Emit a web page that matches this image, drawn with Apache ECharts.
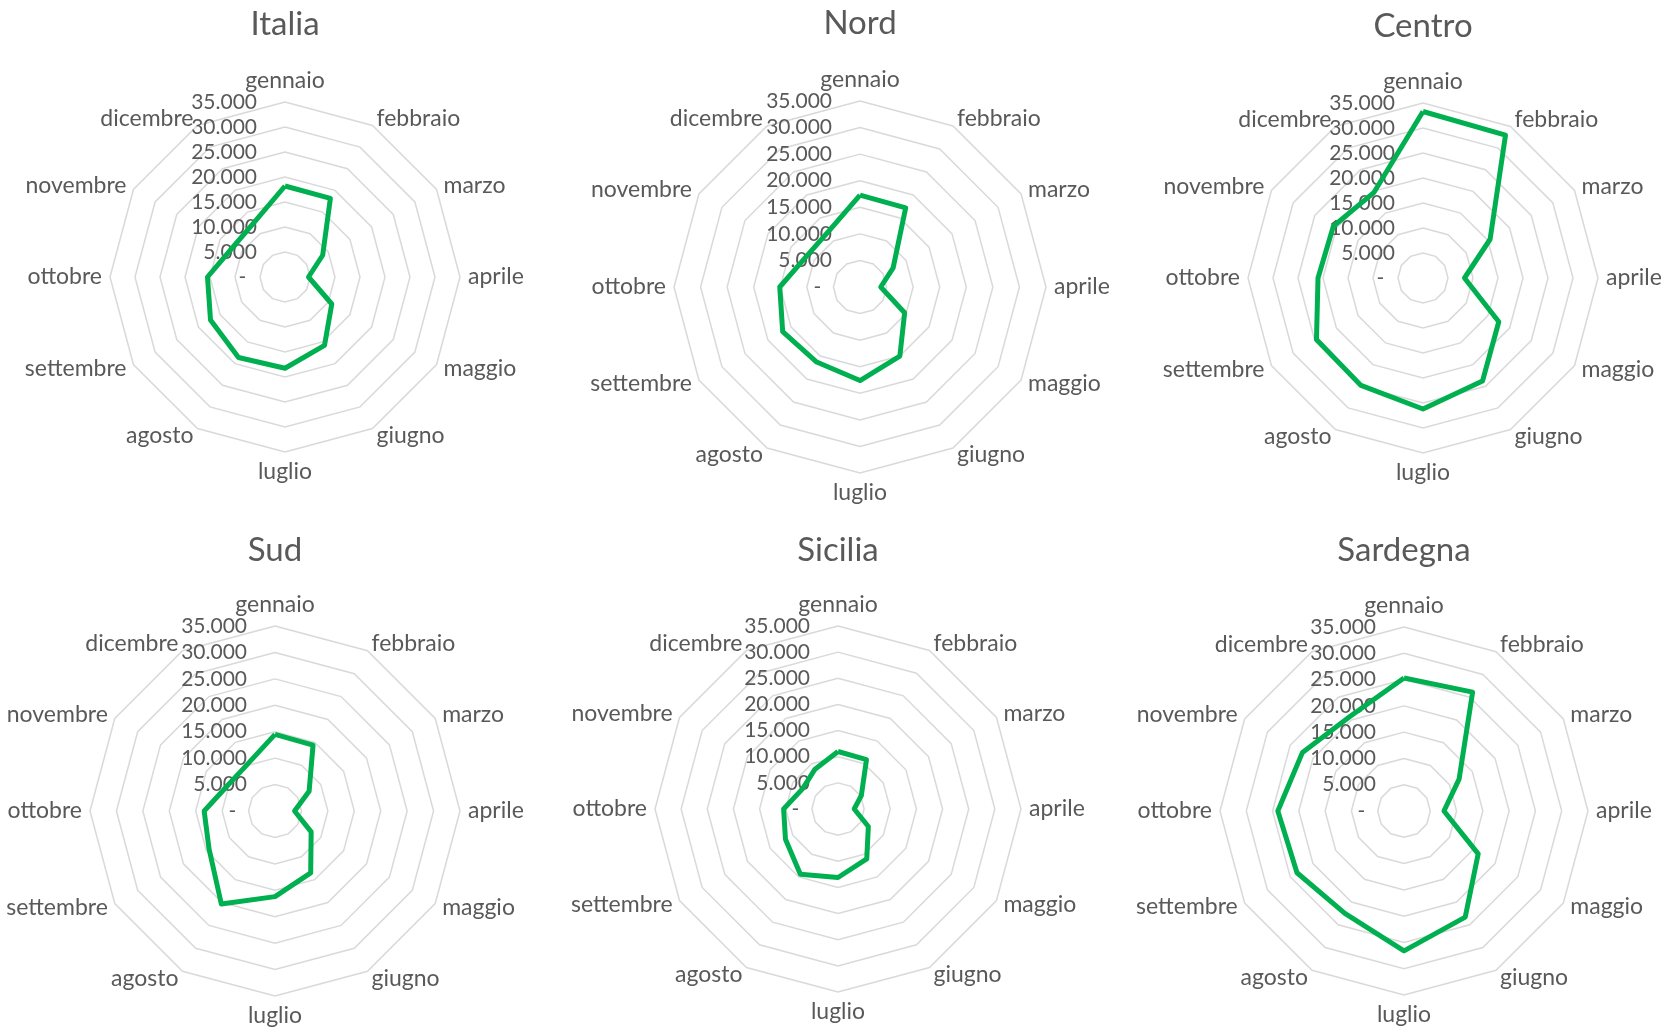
<!DOCTYPE html>
<html style="height: 100%">
<head>
    <meta charset="utf-8">
</head>
<body style="height: 100%; margin: 0; background: #fff">
<div id="container" style="width:1665px; height:1031px"></div>
<script type="text/javascript" src="https://cdn.jsdelivr.net/npm/echarts@6/dist/echarts.min.js"></script>

<script type="text/javascript">

    // mesi e valori
    var months = ['gennaio', 'febbraio', 'marzo', 'aprile', 'maggio', 'giugno',
        'luglio', 'agosto', 'settembre', 'ottobre', 'novembre', 'dicembre'];
    var regions = ['Italia', 'Nord', 'Centro', 'Sud', 'Sicilia', 'Sardegna'];
    var ticks = [0, 5000, 10000, 15000, 20000, 25000, 30000, 35000];

    var italia = [18200, 18150, 8700, 4700, 10800, 15800, 18250, 18600, 17200, 15500, 12000, 12500];
    var nord = [17300, 17200, 7200, 3900, 9700, 15000, 17600, 16300, 16800, 15100, 11600, 12000];
    var centro = [33300, 33000, 15500, 8300, 17500, 23800, 26200, 24800, 24600, 21000, 20700, 19700];
    var sud = [14500, 14400, 7450, 3700, 7900, 13500, 16200, 20300, 14400, 13400, 10100, 10300];
    var sicilia = [11000, 10900, 5150, 3100, 6700, 11000, 13100, 14400, 11600, 10400, 7800, 8800];
    var sardegna = [25300, 26100, 12100, 7600, 16300, 23300, 26600, 22500, 23500, 24000, 22300, 20700];

    f1();
    function f1() {
        var dom = document.getElementById("container");
        var myChart = echarts.init(dom);

        var allData = [italia, nord, centro, sud, sicilia, sardegna];
        var centers = [[285, 277], [860, 287], [1423, 278], [275, 811], [838, 809], [1404, 811]];
        var radii = [175, 186, 175, 185, 183, 184];
        var titleY = [8, 7, 10, 534, 534, 534];

        var grey = '#595959';
        var font = 'Lato';
        var maxV = ticks[ticks.length - 1];

        // ECharts gira in senso antiorario: riordino per avere gennaio, febbraio... in senso orario
        var order = months.map(function (m, i) {
            return i === 0 ? 0 : months.length - i;
        });

        function fmt(v) {
            if (v === 0) return '-  ';
            return String(v).replace(/\B(?=(\d{3})+(?!\d))/g, '.');
        }

        var titles = [], radars = [], series = [];
        regions.forEach(function (name, k) {
            titles.push({
                text: name,
                left: centers[k][0],
                top: titleY[k],
                textAlign: 'center',
                padding: 0,
                textStyle: {color: grey, fontSize: 33, fontWeight: 'normal', fontFamily: font}
            });
            var indicator = order.map(function (i, j) {
                var ind = {name: months[i], min: 0, max: maxV};
                if (j === 0) {
                    ind.axisLabel = {
                        show: true, color: grey, fontSize: 21, fontFamily: font,
                        margin: 28, align: 'right', formatter: fmt
                    };
                }
                return ind;
            });
            radars.push({
                center: centers[k],
                radius: radii[k],
                startAngle: 90,
                shape: 'polygon',
                splitNumber: ticks.length - 1,
                indicator: indicator,
                nameGap: 8,
                axisName: {color: grey, fontSize: 23, fontFamily: font},
                splitLine: {lineStyle: {color: '#D9D9D9', width: 1.5}},
                splitArea: {show: false},
                axisLine: {show: false},
                axisTick: {show: false},
                axisLabel: {show: false}
            });
            series.push({
                name: name,
                type: 'radar',
                radarIndex: k,
                symbol: 'none',
                lineStyle: {color: '#00B050', width: 5},
                data: [{value: order.map(function (i) { return allData[k][i]; })}]
            });
        });

        var option = {
            backgroundColor: '#ffffff',
            animation: false,
            title: titles,
            radar: radars,
            series: series
        };
        myChart.setOption(option, true);
    }

</script>

</body>
</html>
